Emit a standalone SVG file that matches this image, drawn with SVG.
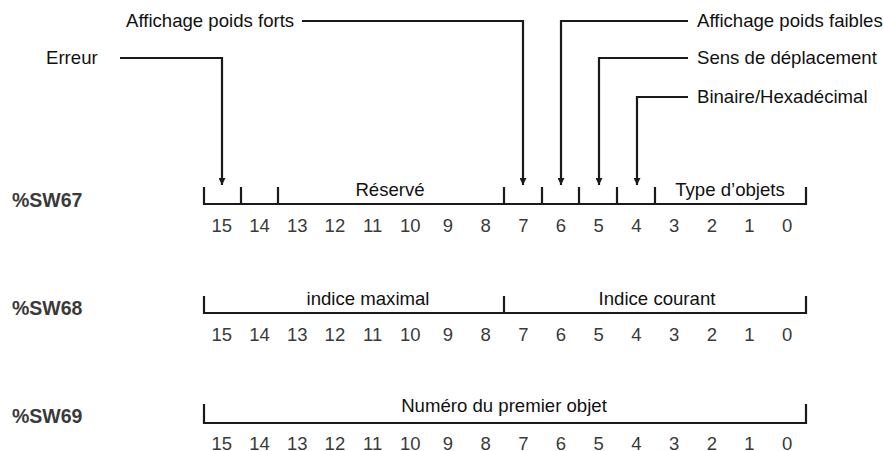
<svg xmlns="http://www.w3.org/2000/svg" width="883" height="451" viewBox="0 0 883 451">
<style>
.t{font-family:"Liberation Sans",Arial,sans-serif;font-size:18.6px;fill:#111}
.n{font-family:"Liberation Sans",Arial,sans-serif;font-size:18.5px;fill:#3a3a3a;text-anchor:middle}
.r{font-family:"Liberation Sans",Arial,sans-serif;font-size:19.5px;font-weight:bold;fill:#3a3a3a}
.c{text-anchor:middle}
.b{fill:none;stroke:#1a1a1a;stroke-width:2.2}
.a{fill:none;stroke:#1a1a1a;stroke-width:2.2;marker-end:url(#ah)}
</style>
<defs>
<marker id="ah" viewBox="0 0 10 10" refX="10" refY="5" markerWidth="11" markerHeight="7" markerUnits="userSpaceOnUse" orient="auto">
<path d="M0,0 L10,5 L0,10 Z" fill="#1a1a1a"/>
</marker>
<g id="bits">
<text x="221.8">15</text><text x="259.5">14</text><text x="297.2">13</text><text x="334.9">12</text>
<text x="372.6">11</text><text x="410.3">10</text><text x="448">9</text><text x="485.7">8</text>
<text x="523.3">7</text><text x="561">6</text><text x="598.7">5</text><text x="636.4">4</text>
<text x="674.1">3</text><text x="711.8">2</text><text x="749.5">1</text><text x="787.2">0</text>
</g>
</defs>
<rect width="883" height="451" fill="#fff"/>

<g id="sw67">
<text class="r" x="12" y="207">%SW67</text>
<path class="b" d="M204,187 V204 H806 V187 M241,187 V204 M278,187 V204 M504,187 V204 M542,187 V204 M579,187 V204 M617,187 V204 M655,187 V204"/>
<text class="t c" x="390" y="196">Réservé</text>
<text class="t c" x="730" y="196">Type d’objets</text>
<g class="n" transform="translate(0,232)"><use href="#bits"/></g>
</g>

<g id="sw68">
<text class="r" x="12" y="315">%SW68</text>
<path class="b" d="M204,296 V313 H806 V296 M504,296 V313"/>
<text class="t c" x="368" y="305">indice maximal</text>
<text class="t c" x="657" y="305">Indice courant</text>
<g class="n" transform="translate(0,341)"><use href="#bits"/></g>
</g>

<g id="sw69">
<text class="r" x="12" y="423">%SW69</text>
<path class="b" d="M204,404 V423 H806 V404"/>
<text class="t c" x="504" y="412">Numéro du premier objet</text>
<g class="n" transform="translate(0,450)"><use href="#bits"/></g>
</g>

<g id="lbl-erreur"><text class="t" x="46" y="64">Erreur</text></g>
<g id="lbl-forts"><text class="t" x="126" y="27">Affichage poids forts</text></g>
<g id="lbl-faibles"><text class="t" x="697" y="27">Affichage poids faibles</text></g>
<g id="lbl-sens"><text class="t" x="697" y="64">Sens de déplacement</text></g>
<g id="lbl-binaire"><text class="t" x="697" y="103">Binaire/Hexadécimal</text></g>

<g id="connectors">
<path class="a" d="M120,58 H222 V185"/>
<path class="a" d="M302,21 H523 V185"/>
<path class="a" d="M688,21 H561 V185"/>
<path class="a" d="M688,58 H599 V185"/>
<path class="a" d="M688,97 H637 V185"/>
</g>
</svg>
